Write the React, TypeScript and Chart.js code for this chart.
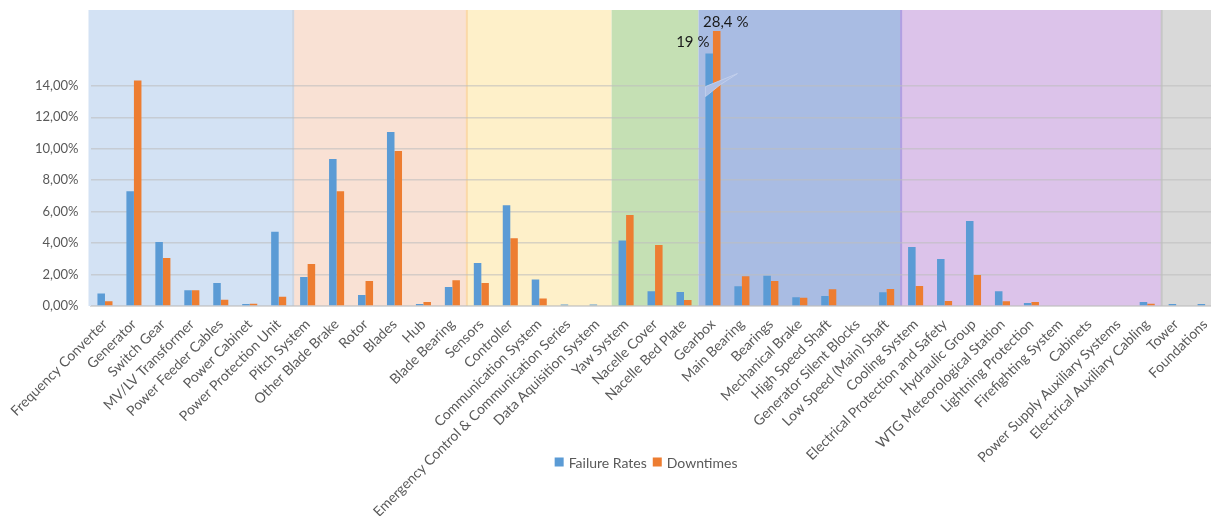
import React, { useEffect, useRef } from 'react';
import { Chart, registerables, LinearScale } from 'chart.js';

// Component categories, in drawing order
const categories: string[] = [
  'Frequency Converter', 'Generator', 'Switch Gear', 'MV/LV Transformer', 'Power Feeder Cables',
  'Power Cabinet', 'Power Protection Unit',
  'Pitch System', 'Other Blade Brake', 'Rotor', 'Blades', 'Hub', 'Blade Bearing',
  'Sensors', 'Controller', 'Communication System', 'Emergency Control & Communication Series',
  'Data Aquisition System',
  'Yaw System', 'Nacelle Cover', 'Nacelle Bed Plate',
  'Gearbox', 'Main Bearing', 'Bearings', 'Mechanical Brake', 'High Speed Shaft',
  'Generator Silent Blocks', 'Low Speed (Main) Shaft',
  'Cooling System', 'Electrical Protection and Safety', 'Hydraulic Group', 'WTG Meteorological Station',
  'Lightning Protection', 'Firefighting System', 'Cabinets', 'Power Supply Auxiliary Systems',
  'Electrical Auxiliary Cabling',
  'Tower', 'Foundations',
];

// Share of failures per component (%)
const failureRates: number[] = [
  0.80, 7.29, 4.07, 1.00, 1.46, 0.13, 4.72,
  1.84, 9.34, 0.70, 11.06, 0.13, 1.21,
  2.73, 6.40, 1.69, 0.10, 0.10,
  4.17, 0.93, 0.89,
  19, 1.25, 1.93, 0.55, 0.64, 0.05, 0.87,
  3.75, 2.99, 5.40, 0.93, 0.19, 0, 0.05, 0, 0.25,
  0.13, 0.12,
];

// Share of downtime per component (%)
const downtimes: number[] = [
  0.30, 14.34, 3.05, 1.00, 0.40, 0.15, 0.59,
  2.67, 7.29, 1.59, 9.85, 0.25, 1.63,
  1.46, 4.30, 0.47, 0.04, 0,
  5.78, 3.88, 0.38,
  28.4, 1.89, 1.59, 0.53, 1.06, 0, 1.08,
  1.27, 0.32, 1.97, 0.30, 0.25, 0, 0, 0, 0.15,
  0, 0.05,
];

const seriesNames: string[] = ['Failure Rates', 'Downtimes'];

// Number of consecutive categories in each subsystem group
const groupSizes: number[] = [7, 6, 5, 3, 7, 9, 2];

// Categories whose bars carry a value label (they run past the axis break)
const labelledCategories: string[] = ['Gearbox'];

// Y tick values shown on the axis
const yTickValues: number[] = [0, 2, 4, 6, 8, 10, 12, 14];

const groupColors = ['#d3e2f4', '#f9e1d4', '#fef0c9', '#c5e0b4', '#a9bce3', '#dcc3ea', '#d9d9d9'];
const groupEdgeColors = [null, '#ccd6e3', '#fbd9a8', null, null, '#b19fe2', '#c6c6c6'];
const seriesColors = ['#5b9bd5', '#ed7d31'];
const FONT = 'Lato, "Open Sans", sans-serif';

// Broken value axis: linear up to BREAK_AT, logarithmically compressed above it
const BREAK_AT = 15;
const BREAK_A = 2.32;
const BREAK_B = 7;
const VISUAL_TOP = 18.82;
const warp = (v: number) => (v <= BREAK_AT ? v : BREAK_AT + BREAK_A * Math.log(1 + (v - BREAK_AT) / BREAK_B));
const unwarp = (w: number) => (w <= BREAK_AT ? w : BREAK_AT + BREAK_B * (Math.exp((w - BREAK_AT) / BREAK_A) - 1));

class BrokenLinearScale extends LinearScale {
  static id = 'brokenLinear';
  static defaults = { ...LinearScale.defaults };
  getPixelForValue(value: number) {
    if (value === null || value === undefined || isNaN(value)) return NaN;
    const lo = warp(this.min);
    const hi = warp(this.max);
    return this.getPixelForDecimal((warp(value) - lo) / (hi - lo));
  }
  getValueForPixel(pixel: number) {
    const lo = warp(this.min);
    const hi = warp(this.max);
    return unwarp(lo + this.getDecimalForPixel(pixel) * (hi - lo));
  }
}

Chart.register(...registerables, BrokenLinearScale as any);

const fmtTick = (v: number) => v.toFixed(2).replace('.', ',') + '%';
const fmtLabel = (v: number) => String(v).replace('.', ',') + ' %';

// Coloured bands behind each subsystem group
const groupBands = {
  id: 'groupBands',
  beforeDraw(chart: any) {
    const { ctx, chartArea } = chart;
    const x = chart.scales.x;
    const step = x.getPixelForValue(1) - x.getPixelForValue(0);
    let start = 0;
    ctx.save();
    groupSizes.forEach((size, g) => {
      const left = g === 0 ? chartArea.left - 2 : x.getPixelForValue(start) - step / 2;
      const right = x.getPixelForValue(start + size - 1) + step / 2;
      ctx.fillStyle = groupColors[g];
      ctx.fillRect(left, chartArea.top, right - left, chartArea.bottom - chartArea.top);
      start += size;
    });
    start = 0;
    groupSizes.forEach((size, g) => {
      const edge = groupEdgeColors[g];
      if (edge && g > 0) {
        const left = x.getPixelForValue(start) - step / 2;
        ctx.fillStyle = edge;
        ctx.fillRect(left - 1, chartArea.top, 2, chartArea.bottom - chartArea.top);
      }
      start += size;
    });
    ctx.restore();
  },
};

// Slash marking the axis break across the first series' bar, plus value labels
const breakMarks = {
  id: 'breakMarks',
  afterDatasetDraw(chart: any, args: any) {
    if (args.index !== 0) return;
    const { ctx } = chart;
    const y = chart.scales.y;
    labelledCategories.forEach((name) => {
      const i = categories.indexOf(name);
      const bar = chart.getDatasetMeta(0).data[i];
      if (!bar) return;
      const x0 = bar.x - bar.width / 2;
      const yTop = y.getPixelForValue(13.95);
      ctx.save();
      ctx.beginPath();
      ctx.moveTo(x0, yTop);
      ctx.lineTo(x0 + 32, yTop - 13);
      ctx.lineTo(x0 + 15, yTop - 2);
      ctx.lineTo(x0, yTop + 10);
      ctx.closePath();
      ctx.fillStyle = '#afc0e5';
      ctx.fill();
      ctx.strokeStyle = 'rgba(196,208,236,0.9)';
      ctx.lineWidth = 1;
      ctx.stroke();
      ctx.restore();
    });
  },
  afterDatasetsDraw(chart: any) {
    const { ctx } = chart;
    ctx.save();
    ctx.font = `15px ${FONT}`;
    ctx.fillStyle = '#1a1a1a';
    ctx.textBaseline = 'middle';
    labelledCategories.forEach((name) => {
      const i = categories.indexOf(name);
      const b0 = chart.getDatasetMeta(0).data[i];
      const b1 = chart.getDatasetMeta(1).data[i];
      ctx.textAlign = 'right';
      ctx.fillText(fmtLabel(failureRates[i]), b0.x - b0.width / 2 + 4, b0.y - 11);
      ctx.textAlign = 'center';
      ctx.fillText(fmtLabel(downtimes[i]), b1.x + 9, b1.y - 9);
    });
    ctx.restore();
  },
};

// Legend drawn inside the label area, centred under the plot
const bottomLegend = {
  id: 'bottomLegend',
  afterDraw(chart: any) {
    const { ctx, chartArea } = chart;
    ctx.save();
    ctx.font = `14px ${FONT}`;
    ctx.textBaseline = 'middle';
    ctx.textAlign = 'left';
    const box = 9;
    const gapBoxText = 5;
    const gapItems = 6;
    const widths = seriesNames.map((s) => box + gapBoxText + ctx.measureText(s).width);
    const total = widths.reduce((a, b) => a + b, 0) + gapItems * (widths.length - 1);
    let x = (chartArea.left + chartArea.right) / 2 - 9 - total / 2;
    const yc = 462;
    seriesNames.forEach((s, k) => {
      ctx.fillStyle = seriesColors[k];
      ctx.fillRect(x, yc - box / 2, box, box);
      ctx.fillStyle = '#595959';
      ctx.fillText(s, x + box + gapBoxText, yc + 1);
      x += widths[k] + gapItems;
    });
    ctx.restore();
  },
};

export default function App() {
  const canvasRef = useRef<HTMLCanvasElement | null>(null);

  useEffect(() => {
    if (!canvasRef.current) return;
    const chart = new Chart(canvasRef.current, {
      type: 'bar',
      data: {
        labels: categories,
        datasets: [
          { label: seriesNames[0], data: failureRates, backgroundColor: seriesColors[0] },
          { label: seriesNames[1], data: downtimes, backgroundColor: seriesColors[1] },
        ],
      },
      options: {
        animation: false,
        responsive: false,
        devicePixelRatio: 1,
        layout: { padding: { top: 10, left: 0, right: 12.4, bottom: 0 } },
        datasets: { bar: { categoryPercentage: 0.52, barPercentage: 1 } },
        plugins: { legend: { display: false }, tooltip: { enabled: false } },
        scales: {
          x: {
            grid: { display: false },
            border: { display: true, color: '#d9d9d9' },
            ticks: {
              autoSkip: false,
              minRotation: 45,
              maxRotation: 45,
              padding: 2,
              color: '#595959',
              font: { family: FONT, size: 14 },
            },
            afterFit(scale: any) {
              scale.height = 210;
              scale.paddingLeft = 0;
              scale.paddingRight = 0;
            },
          },
          y: {
            type: 'brokenLinear' as any,
            min: 0,
            max: unwarp(VISUAL_TOP),
            bounds: 'data',
            grid: { color: 'rgba(190,190,190,0.6)', lineWidth: 1.5, drawTicks: false },
            border: { display: false },
            afterBuildTicks(scale: any) {
              scale.ticks = yTickValues.map((v) => ({ value: v }));
            },
            ticks: {
              padding: 12,
              color: '#595959',
              font: { family: FONT, size: 13 },
              callback: (v: any) => fmtTick(Number(v)),
            },
            afterFit(scale: any) {
              scale.width = 90.5;
              scale.paddingTop = 0;
              scale.paddingBottom = 0;
            },
          },
        },
      },
      plugins: [groupBands, breakMarks, bottomLegend],
    } as any);
    return () => chart.destroy();
  }, []);

  return (
    <div style={{ position: 'absolute', left: 0, top: 0, width: 1211, height: 516, overflow: 'hidden', background: '#fff' }}>
      <canvas ref={canvasRef} width={1232} height={516} style={{ display: 'block' }} />
    </div>
  );
}
